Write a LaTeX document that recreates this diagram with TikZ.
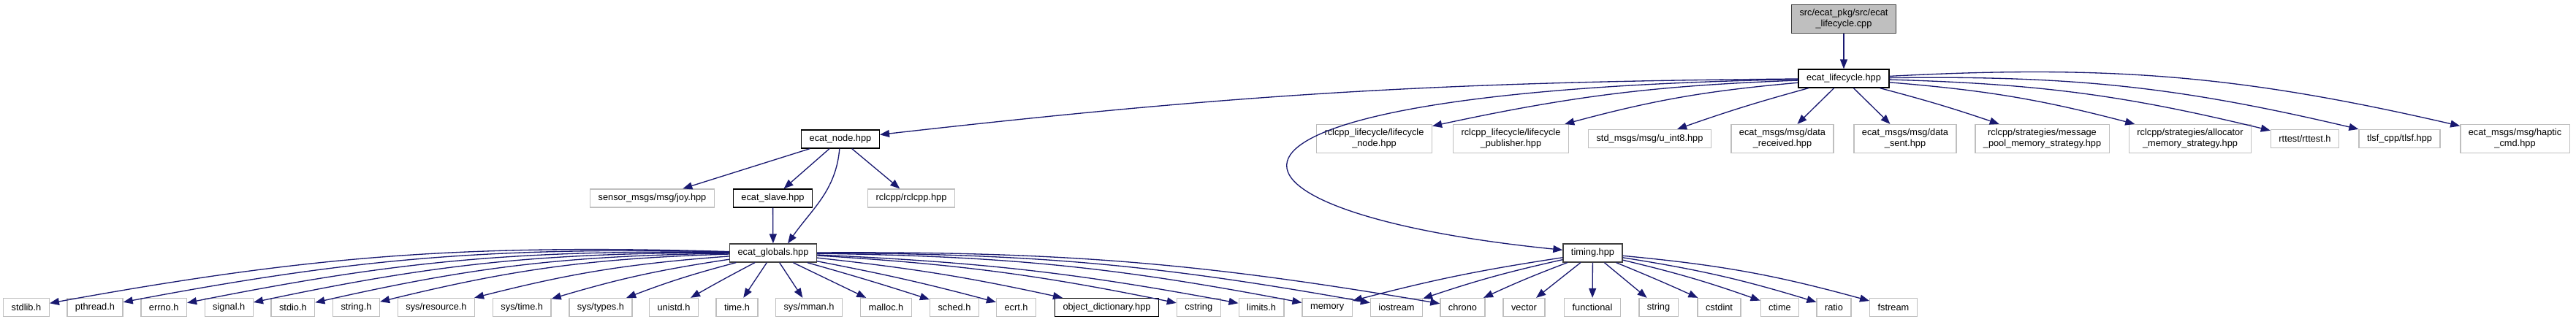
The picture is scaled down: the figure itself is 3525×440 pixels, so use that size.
\documentclass[tikz,border=0pt]{standalone}
\usepackage{fontspec}
\setmainfont{Liberation Sans}
\usetikzlibrary{arrows.meta,positioning}
\definecolor{edgeblue}{RGB}{25,25,112}
\definecolor{extgray}{RGB}{191,191,191}

\begin{document}
\begin{tikzpicture}[x=0.25pt, y=0.25pt,
    filebox/.style={rectangle, draw=black, line width=0.33pt, fill=white, minimum height=6.25pt,
      inner xsep=2.75pt, inner ysep=1.5pt, align=center, font=\fontsize{3.2}{3.75}\selectfont},
    extbox/.style={filebox, draw=extgray},
    rootbox/.style={filebox, draw=black!75, fill=extgray},
    incl/.style={draw=edgeblue, line width=0.33pt, -{Triangle[length=3.25pt,width=2.5pt]}}
  ]
  \useasboundingbox (0,0) rectangle (3525,-440);

  % source file and its header
  \node[rootbox] (root) at (2523,-26)    {src/ecat\_pkg/src/ecat\\\_lifecycle.cpp};
  \node[filebox] (lc)   at (2523,-107.5) {ecat\_lifecycle.hpp};

  % headers included by ecat_lifecycle.hpp
  \node[filebox] (enode)  at (1150,-190.5) {ecat\_node.hpp};
  \node[extbox]  (lcnode) at (1880.5,-190) {rclcpp\_lifecycle/lifecycle\\\_node.hpp};
  \node[extbox]  (lcpub)  at (2067.5,-190) {rclcpp\_lifecycle/lifecycle\\\_publisher.hpp};
  \node[extbox]  (uint)   at (2257.5,-190) {std\_msgs/msg/u\_int8.hpp};
  \node[extbox]  (drecv)  at (2439,-190)   {ecat\_msgs/msg/data\\\_received.hpp};
  \node[extbox]  (dsent)  at (2607,-190)   {ecat\_msgs/msg/data\\\_sent.hpp};
  \node[extbox]  (mpool)  at (2794.5,-190) {rclcpp/strategies/message\\\_pool\_memory\_strategy.hpp};
  \node[extbox]  (alloc)  at (2997,-190)   {rclcpp/strategies/allocator\\\_memory\_strategy.hpp};
  \node[extbox]  (rtt)    at (3154,-190)   {rttest/rttest.h};
  \node[extbox]  (tlsf)   at (3283.5,-190) {tlsf\_cpp/tlsf.hpp};
  \node[extbox]  (haptic) at (3441.5,-190) {ecat\_msgs/msg/haptic\\\_cmd.hpp};

  % headers included by ecat_node.hpp
  \node[extbox]  (joy)   at (892.5,-271.5)  {sensor\_msgs/msg/joy.hpp};
  \node[filebox] (slave) at (1057.5,-271.5) {ecat\_slave.hpp};
  \node[extbox]  (rcl)   at (1247,-271.5)   {rclcpp/rclcpp.hpp};

  \node[filebox, draw=black!75] (glob)   at (1058,-346.5)   {ecat\_globals.hpp};
  \node[filebox, draw=black!75] (timing) at (2179.5,-346.5) {timing.hpp};

  % system and library headers
  \node[extbox] (stdlib)   at (36,-421)     {stdlib.h};
  \node[extbox] (pthread)  at (130,-421)    {pthread.h};
  \node[extbox] (errno)    at (224.2,-421)  {errno.h};
  \node[extbox] (signal)   at (313.3,-421)  {signal.h};
  \node[extbox] (stdio)    at (400.9,-421)  {stdio.h};
  \node[extbox] (strh)     at (487.5,-421)  {string.h};
  \node[extbox] (sres)     at (597,-421)    {sys/resource.h};
  \node[extbox] (stime)    at (714.3,-421)  {sys/time.h};
  \node[extbox] (stypes)   at (822,-421)    {sys/types.h};
  \node[extbox] (unistd)   at (922,-421)    {unistd.h};
  \node[extbox] (timeh)    at (1008.5,-421) {time.h};
  \node[extbox] (mman)     at (1107,-421)   {sys/mman.h};
  \node[extbox] (malloc)   at (1212.5,-421) {malloc.h};
  \node[extbox] (sched)    at (1306,-421)   {sched.h};
  \node[extbox] (ecrt)     at (1390.5,-421) {ecrt.h};
  \node[filebox] (objdict) at (1514.5,-421) {object\_dictionary.hpp};
  \node[extbox] (cstring)  at (1640.3,-421) {cstring};
  \node[extbox] (limits)   at (1726.1,-421) {limits.h};
  \node[extbox] (memory)   at (1816.2,-421) {memory};
  \node[extbox] (iostream) at (1911,-421)   {iostream};
  \node[extbox] (chrono)   at (2001.5,-421) {chrono};
  \node[extbox] (vector)   at (2085.5,-421) {vector};
  \node[extbox] (functional) at (2179,-421) {functional};
  \node[extbox] (string)   at (2269.5,-421) {string};
  \node[extbox] (cstdint)  at (2352.5,-421) {cstdint};
  \node[extbox] (ctime)    at (2435.5,-421) {ctime};
  \node[extbox] (ratio)    at (2509.5,-421) {ratio};
  \node[extbox] (fstream)  at (2591,-421)   {fstream};

  % include edges
  \draw[incl] (root) -- (lc);
  \draw[incl] (lc) to[bend right=3] (enode);
  \draw[incl] (lc) .. controls (1560,-125) and (1620,-290) .. (timing);
  \foreach \tgt/\bnd in {lcnode/5, lcpub/5, uint/2, drecv/0, dsent/0, mpool/-2, alloc/-5, rtt/-6, tlsf/-7, haptic/-8}
    \draw[incl] (lc) to[bend right=\bnd] (\tgt);

  \draw[incl] (enode) -- (joy);
  \draw[incl] (enode) -- (slave);
  \draw[incl] (enode) -- (rcl);
  \draw[incl] (enode) to[out=265, in=55] ([xshift=5pt]glob.north);
  \draw[incl] (slave) -- (glob);

  \foreach \tgt/\bnd in {stdlib/6, pthread/6, errno/6, signal/6, stdio/6, strh/6, sres/5, stime/4, stypes/3,
      unistd/1, timeh/0, mman/0, malloc/0, sched/-1, ecrt/-2, objdict/-3, cstring/-4, limits/-4,
      memory/-5, iostream/-5, chrono/-5}
    \draw[incl] (glob) to[bend right=\bnd] (\tgt);

  \foreach \tgt/\bnd in {memory/3, iostream/3, chrono/2, vector/0, functional/0, string/0, cstdint/-1,
      ctime/-3, ratio/-4, fstream/-5}
    \draw[incl] (timing) to[bend right=\bnd] (\tgt);
\end{tikzpicture}
\end{document}
